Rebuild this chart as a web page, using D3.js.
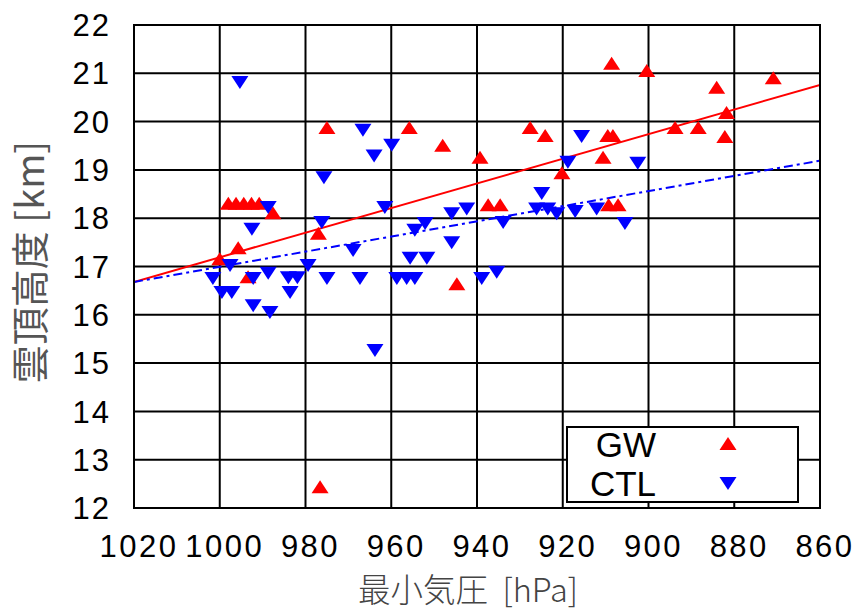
<!DOCTYPE html>
<html>
<head>
<meta charset="utf-8">
<script src="https://cdn.jsdelivr.net/npm/d3@7"></script>
<style>
    body { margin: 0; background: #fff; }
    svg { display: block; }
</style>
</head>
<body>
<script>
const width = 859;
const height = 613;

// GW: [min pressure hPa, cloud top km]
const gwPoints = [
    [998, 18.3], [996.2, 18.3], [994.4, 18.3], [992.6, 18.3], [990.8, 18.3], [987.6, 18.1],
    [995.7, 17.38], [1000, 17.15], [993.4, 16.78],
    [977, 17.68], [975, 19.87], [976.6, 12.43],
    [955.8, 19.87], [948, 19.5], [939.3, 19.25], [944.7, 16.63],
    [937.4, 18.27], [934.6, 18.27],
    [927.6, 19.87], [924.1, 19.7], [920.2, 18.93],
    [910.6, 19.25], [909.5, 19.7], [908.3, 19.7], [908.6, 21.2], [909.3, 18.27], [907.1, 18.27],
    [900.4, 21.05], [893.8, 19.87], [888.4, 19.87], [884.1, 20.7], [881.8, 20.18], [882.2, 19.68],
    [870.9, 20.9]
];

// CTL
const ctlPoints = [
    [995.3, 20.82], [966.6, 19.83], [959.9, 19.52], [964, 19.3], [975.7, 18.85],
    [988.7, 18.23], [961.5, 18.23], [992.5, 17.78], [976.2, 17.92],
    [952.1, 17.9], [954.5, 17.76], [945.9, 18.1], [942.4, 18.2], [945.9, 17.5],
    [968.9, 17.34], [955.6, 17.18], [951.7, 17.18], [979.4, 17.03],
    [997.6, 17.03], [1001.6, 16.76], [999.5, 16.47], [997.2, 16.47],
    [992.2, 16.76], [988.7, 16.87], [992.2, 16.2], [988.3, 16.06],
    [984, 16.78], [981.9, 16.78], [983.6, 16.47], [975, 16.76], [967.3, 16.76],
    [958.7, 16.76], [956.4, 16.76], [954.5, 16.76], [963.8, 15.27],
    [938.9, 16.76], [935.4, 16.89], [933.9, 17.92],
    [924.9, 18.52], [926.1, 18.2], [923.5, 18.2], [921.4, 18.1], [917.1, 18.15], [912.1, 18.2],
    [905.5, 17.9], [915.6, 19.7], [918.8, 19.17], [902.5, 19.15]
];

// regression lines (end points)
const gwTrend = [[1020, 16.68], [860, 20.76]];
const ctlTrend = [[1020, 16.68], [860, 19.19]];

const xTicks = [1020, 1000, 980, 960, 940, 920, 900, 880, 860];
const yTicks = [12, 13, 14, 15, 16, 17, 18, 19, 20, 21, 22];

const seriesNames = ["GW", "CTL"];
const seriesColors = ["#ff0000", "#0000ff"];

let margin = { top: 25, right: 39, bottom: 105, left: 134 };

let svg = d3
    .select("body")
    .append("svg")
    .attr("width", width)
    .attr("height", height);

let xScale = d3.scaleLinear()
    .domain([1020, 860])
    .range([margin.left, width - margin.right]);

let yScale = d3.scaleLinear()
    .domain([12, 22])
    .range([height - margin.bottom, margin.top]);

svg.append("clipPath")
    .attr("id", "plot")
    .append("rect")
    .attr("x", margin.left)
    .attr("y", margin.top)
    .attr("width", xScale.range()[1] - margin.left)
    .attr("height", yScale.range()[0] - margin.top);

// grid
let grid = svg.append("g").attr("stroke", "#000").attr("stroke-width", 2);

grid.selectAll(".gx")
    .data(xTicks)
    .join("line")
    .attr("x1", d => xScale(d))
    .attr("x2", d => xScale(d))
    .attr("y1", margin.top)
    .attr("y2", height - margin.bottom);

grid.selectAll(".gy")
    .data(yTicks)
    .join("line")
    .attr("class", "gy")
    .attr("x1", margin.left)
    .attr("x2", width - margin.right)
    .attr("y1", d => yScale(d))
    .attr("y2", d => yScale(d));

// tick labels
svg.append("g")
    .selectAll("text")
    .data(yTicks)
    .join("text")
    .attr("x", margin.left - 23)
    .attr("y", d => yScale(d))
    .attr("dy", "0.36em")
    .attr("text-anchor", "end")
    .style("font-family", "Liberation Sans, Arial, sans-serif")
    .style("font-size", "31px")
    .style("letter-spacing", "2px")
    .text(d => d);

svg.append("g")
    .selectAll("text")
    .data(xTicks)
    .join("text")
    .attr("x", d => xScale(d) + 5)
    .attr("y", height - margin.bottom + 49)
    .attr("text-anchor", "middle")
    .style("font-family", "Liberation Sans, Arial, sans-serif")
    .style("font-size", "31px")
    .style("letter-spacing", "2.5px")
    .text(d => d);

// axis titles
svg.append("text")
    .text("最小気圧\u00a0\u00a0[hPa]")
    .attr("x", 468)
    .attr("y", 602)
    .attr("text-anchor", "middle")
    .attr("fill", "#444")
    .style("font-family", "Noto Sans CJK JP, sans-serif")
    .style("font-size", "32.5px")
    .style("font-weight", 300);

svg.append("text")
    .text("雲頂高度 [km]")
    .attr("text-anchor", "middle")
    .attr("fill", "#555")
    .style("font-family", "Noto Sans CJK JP, sans-serif")
    .style("font-size", "38px")
    .attr("transform", `translate(44, 262) rotate(270)`);

// trend lines
let line = d3.line()
    .x(d => xScale(d[0]))
    .y(d => yScale(d[1]));

let trends = svg.append("g").attr("clip-path", "url(#plot)");

trends.append("path")
    .attr("d", line(gwTrend))
    .attr("fill", "none")
    .attr("stroke", seriesColors[0])
    .attr("stroke-width", 2);

trends.append("path")
    .attr("d", line(ctlTrend))
    .attr("fill", "none")
    .attr("stroke", seriesColors[1])
    .attr("stroke-width", 2)
    .attr("stroke-dasharray", "9,4,3,4");

// markers
const upTri = "M0,-7L8.5,6L-8.5,6Z";
const downTri = "M0,7L8.5,-6L-8.5,-6Z";

svg.append("g")
    .selectAll("path")
    .data(gwPoints)
    .join("path")
    .attr("d", upTri)
    .attr("fill", seriesColors[0])
    .attr("transform", d => `translate(${xScale(d[0])}, ${yScale(d[1])})`);

svg.append("g")
    .selectAll("path")
    .data(ctlPoints)
    .join("path")
    .attr("d", downTri)
    .attr("fill", seriesColors[1])
    .attr("transform", d => `translate(${xScale(d[0])}, ${yScale(d[1])})`);

// frame
svg.append("rect")
    .attr("x", margin.left)
    .attr("y", margin.top)
    .attr("width", xScale.range()[1] - margin.left)
    .attr("height", yScale.range()[0] - margin.top)
    .attr("fill", "none")
    .attr("stroke", "#000")
    .attr("stroke-width", 2);

// legend
let legend = svg.append("g").attr("transform", "translate(567, 427)");

legend.append("rect")
    .attr("width", 231)
    .attr("height", 75)
    .attr("fill", "#fff")
    .attr("stroke", "#000")
    .attr("stroke-width", 2);

let rows = legend.selectAll("g")
    .data(seriesNames)
    .join("g")
    .attr("transform", (d, i) => `translate(0, ${17 + i * 39})`);

rows.append("text")
    .attr("x", 89)
    .attr("dy", "0.36em")
    .attr("text-anchor", "end")
    .style("font-family", "Liberation Sans, Arial, sans-serif")
    .style("font-size", "35px")
    .text(d => d);

rows.append("path")
    .attr("d", (d, i) => i === 0 ? upTri : downTri)
    .attr("fill", (d, i) => seriesColors[i])
    .attr("transform", "translate(161, 0)");
</script>
</body>
</html>
